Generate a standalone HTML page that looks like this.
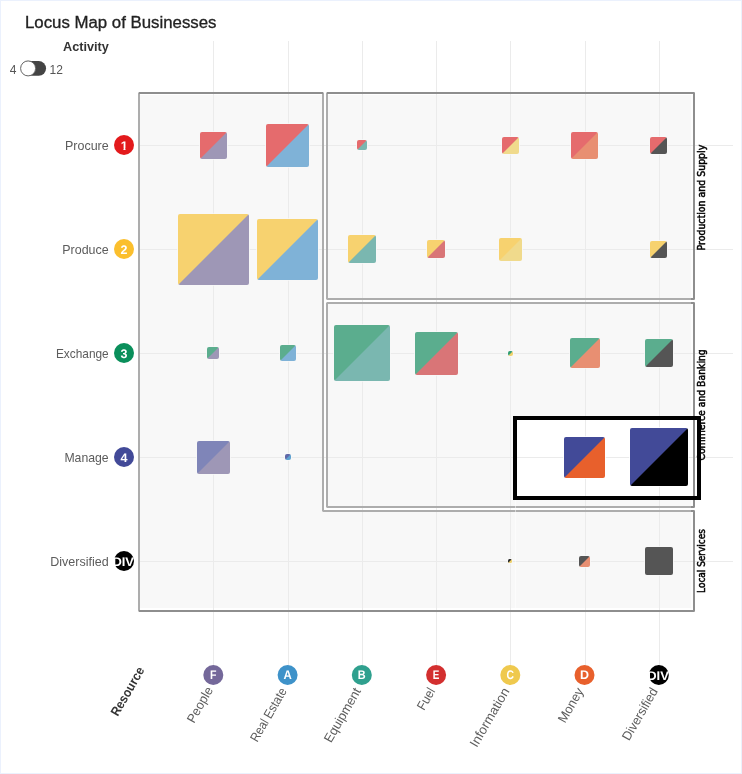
<!DOCTYPE html>
<html lang="en"><head><meta charset="utf-8"><title>Locus Map of Businesses</title>
<style>
html,body{margin:0;padding:0;background:#fff;}
body{width:742px;height:774px;overflow:hidden;position:relative;font-family:"Liberation Sans",sans-serif;}
svg{position:absolute;left:0;top:0;display:block;}
text{font-family:"Liberation Sans",sans-serif;}
.frame{position:absolute;left:0;top:0;width:740px;height:772px;border:1px solid #ebf1fd;}
.ax{font-size:13px;fill:#5c5c5c;}
.side{font-family:"DejaVu Sans Condensed","DejaVu Sans","Liberation Sans",sans-serif;font-size:11px;fill:#000;stroke:#000;stroke-width:0.5px;}
.badge{font-size:12.5px;font-weight:bold;fill:#fff;text-anchor:middle;text-rendering:geometricPrecision;}
</style></head><body>
<svg width="742" height="774" viewBox="0 0 742 774">
<defs>
<linearGradient id="g00" x1="0" y1="0" x2="1" y2="1"><stop offset="0.4869" stop-color="#e56b6d"/><stop offset="0.5131" stop-color="#9e97b6"/></linearGradient>
<linearGradient id="g01" x1="0" y1="0" x2="1" y2="1"><stop offset="0.4918" stop-color="#e56b6d"/><stop offset="0.5082" stop-color="#7fb2d7"/></linearGradient>
<linearGradient id="g02" x1="0" y1="0" x2="1" y2="1"><stop offset="0.4646" stop-color="#e56b6d"/><stop offset="0.5354" stop-color="#7ab7b0"/></linearGradient>
<linearGradient id="g04" x1="0" y1="0" x2="1" y2="1"><stop offset="0.4792" stop-color="#e56b6d"/><stop offset="0.5208" stop-color="#f0da8c"/></linearGradient>
<linearGradient id="g05" x1="0" y1="0" x2="1" y2="1"><stop offset="0.4869" stop-color="#e56b6d"/><stop offset="0.5131" stop-color="#e88f72"/></linearGradient>
<linearGradient id="g06" x1="0" y1="0" x2="1" y2="1"><stop offset="0.4792" stop-color="#e56b6d"/><stop offset="0.5208" stop-color="#555555"/></linearGradient>
<linearGradient id="g10" x1="0" y1="0" x2="1" y2="1"><stop offset="0.4950" stop-color="#f7d26f"/><stop offset="0.5050" stop-color="#9e97b6"/></linearGradient>
<linearGradient id="g11" x1="0" y1="0" x2="1" y2="1"><stop offset="0.4942" stop-color="#f7d26f"/><stop offset="0.5058" stop-color="#7fb2d7"/></linearGradient>
<linearGradient id="g12" x1="0" y1="0" x2="1" y2="1"><stop offset="0.4874" stop-color="#f7d26f"/><stop offset="0.5126" stop-color="#7ab7b0"/></linearGradient>
<linearGradient id="g13" x1="0" y1="0" x2="1" y2="1"><stop offset="0.4804" stop-color="#f7d26f"/><stop offset="0.5196" stop-color="#d97577"/></linearGradient>
<linearGradient id="g14" x1="0" y1="0" x2="1" y2="1"><stop offset="0.4846" stop-color="#f7d26f"/><stop offset="0.5154" stop-color="#f0da8c"/></linearGradient>
<linearGradient id="g16" x1="0" y1="0" x2="1" y2="1"><stop offset="0.4792" stop-color="#f7d26f"/><stop offset="0.5208" stop-color="#555555"/></linearGradient>
<linearGradient id="g20" x1="0" y1="0" x2="1" y2="1"><stop offset="0.4705" stop-color="#5bad8e"/><stop offset="0.5295" stop-color="#9e97b6"/></linearGradient>
<linearGradient id="g21" x1="0" y1="0" x2="1" y2="1"><stop offset="0.4779" stop-color="#5bad8e"/><stop offset="0.5221" stop-color="#7fb2d7"/></linearGradient>
<linearGradient id="g22" x1="0" y1="0" x2="1" y2="1"><stop offset="0.4937" stop-color="#5bad8e"/><stop offset="0.5063" stop-color="#7ab7b0"/></linearGradient>
<linearGradient id="g23" x1="0" y1="0" x2="1" y2="1"><stop offset="0.4918" stop-color="#5bad8e"/><stop offset="0.5082" stop-color="#d97577"/></linearGradient>
<linearGradient id="g24" x1="0" y1="0" x2="1" y2="1"><stop offset="0.4293" stop-color="#329e74"/><stop offset="0.5707" stop-color="#f0d26d"/></linearGradient>
<linearGradient id="g25" x1="0" y1="0" x2="1" y2="1"><stop offset="0.4882" stop-color="#5bad8e"/><stop offset="0.5118" stop-color="#e88f72"/></linearGradient>
<linearGradient id="g26" x1="0" y1="0" x2="1" y2="1"><stop offset="0.4874" stop-color="#5bad8e"/><stop offset="0.5126" stop-color="#555555"/></linearGradient>
<linearGradient id="g30" x1="0" y1="0" x2="1" y2="1"><stop offset="0.4893" stop-color="#7f85b8"/><stop offset="0.5107" stop-color="#9e97b6"/></linearGradient>
<linearGradient id="g31" x1="0" y1="0" x2="1" y2="1"><stop offset="0.4411" stop-color="#6068a8"/><stop offset="0.5589" stop-color="#5ea2d0"/></linearGradient>
<linearGradient id="g35" x1="0" y1="0" x2="1" y2="1"><stop offset="0.4914" stop-color="#424a98"/><stop offset="0.5086" stop-color="#e8602c"/></linearGradient>
<linearGradient id="g36" x1="0" y1="0" x2="1" y2="1"><stop offset="0.4939" stop-color="#424a98"/><stop offset="0.5061" stop-color="#000000"/></linearGradient>
<linearGradient id="g44" x1="0" y1="0" x2="1" y2="1"><stop offset="0.4116" stop-color="#2a2a2a"/><stop offset="0.5884" stop-color="#f0d26d"/></linearGradient>
<linearGradient id="g45" x1="0" y1="0" x2="1" y2="1"><stop offset="0.4679" stop-color="#555555"/><stop offset="0.5321" stop-color="#e88f72"/></linearGradient>
<linearGradient id="g46" x1="0" y1="0" x2="1" y2="1"><stop offset="0.4874" stop-color="#555555"/><stop offset="0.5126" stop-color="#555555"/></linearGradient>
<clipPath id="c1"><path d="M-5 -12H5V-1.7H1.3V0.6H-0.75V-1.7H-5Z"/></clipPath>
</defs>
<g fill="#f8f8f8" stroke="none">
<path d="M139 93H323V511H694V611H139Z"/>
<rect x="327" y="93" width="367" height="206"/>
<rect x="327" y="303" width="367" height="204"/>
</g>
<rect x="140" y="94" width="553" height="1" fill="#fff"/>
<rect x="140" y="608" width="553" height="2" fill="#fff"/>
<rect x="691" y="95" width="2" height="513" fill="#fff" opacity="0.7"/>
<rect x="515" y="418" width="184" height="80" fill="#fff"/>
<g fill="#ebebeb" stroke="none">
<rect x="213" y="41" width="1" height="626"/>
<rect x="288" y="41" width="1" height="626"/>
<rect x="362" y="41" width="1" height="626"/>
<rect x="436" y="41" width="1" height="626"/>
<rect x="510" y="41" width="1" height="626"/>
<rect x="585" y="41" width="1" height="626"/>
<rect x="659" y="41" width="1" height="626"/>
<rect x="139" y="145" width="594" height="1"/>
<rect x="139" y="249" width="594" height="1"/>
<rect x="139" y="353" width="594" height="1"/>
<rect x="139" y="457" width="594" height="1"/>
<rect x="139" y="561" width="594" height="1"/>
</g>
<g fill="none" stroke="#adadad" stroke-width="2" stroke-linejoin="bevel">
<path d="M139 93H323V511H694V611H139Z"/>
<rect x="327" y="93" width="367" height="206"/>
<rect x="327" y="303" width="367" height="204"/>
</g>
<g fill="none" stroke="#8e8e8e" stroke-width="2" stroke-linejoin="bevel">
<path d="M139 93H323"/>
<path d="M327 93H694V299H691"/>
<path d="M691 303H694V507H691"/>
<path d="M691 511H694V611H139"/>
</g>
<rect x="515" y="500" width="1" height="110" fill="#fff" opacity="0.5"/>
<text class="side" transform="translate(705.3,197.6) rotate(-90)" text-anchor="middle" textLength="105.7" lengthAdjust="spacingAndGlyphs">Production and Supply</text>
<text class="side" transform="translate(705.3,404.9) rotate(-90)" text-anchor="middle" textLength="111.3" lengthAdjust="spacingAndGlyphs">Commerce and Banking</text>
<text class="side" transform="translate(705.3,561) rotate(-90)" text-anchor="middle" textLength="63.8" lengthAdjust="spacingAndGlyphs">Local Services</text>
<rect x="515" y="418" width="184" height="80" fill="none" stroke="#000" stroke-width="4"/>
<rect x="200.00" y="132.00" width="27" height="27" rx="2.0" fill="url(#g00)" stroke="#f8f8f8" stroke-width="1.6" paint-order="stroke"/>
<rect x="266.00" y="124.00" width="43" height="43" rx="2.0" fill="url(#g01)" stroke="#f8f8f8" stroke-width="1.6" paint-order="stroke"/>
<rect x="357.00" y="140.00" width="10" height="10" rx="2.0" fill="url(#g02)" stroke="#f8f8f8" stroke-width="1.6" paint-order="stroke"/>
<rect x="502.00" y="137.00" width="17" height="17" rx="2.0" fill="url(#g04)" stroke="#f8f8f8" stroke-width="1.6" paint-order="stroke"/>
<rect x="571.00" y="132.00" width="27" height="27" rx="2.0" fill="url(#g05)" stroke="#f8f8f8" stroke-width="1.6" paint-order="stroke"/>
<rect x="650.00" y="137.00" width="17" height="17" rx="2.0" fill="url(#g06)" stroke="#f8f8f8" stroke-width="1.6" paint-order="stroke"/>
<rect x="178.00" y="214.00" width="71" height="71" rx="2.0" fill="url(#g10)" stroke="#f8f8f8" stroke-width="1.6" paint-order="stroke"/>
<rect x="257.00" y="219.00" width="61" height="61" rx="2.0" fill="url(#g11)" stroke="#f8f8f8" stroke-width="1.6" paint-order="stroke"/>
<rect x="348.00" y="235.00" width="28" height="28" rx="2.0" fill="url(#g12)" stroke="#f8f8f8" stroke-width="1.6" paint-order="stroke"/>
<rect x="427.00" y="240.00" width="18" height="18" rx="2.0" fill="url(#g13)" stroke="#f8f8f8" stroke-width="1.6" paint-order="stroke"/>
<rect x="499.00" y="238.00" width="23" height="23" rx="2.0" fill="url(#g14)" stroke="#f8f8f8" stroke-width="1.6" paint-order="stroke"/>
<rect x="650.00" y="241.00" width="17" height="17" rx="2.0" fill="url(#g16)" stroke="#f8f8f8" stroke-width="1.6" paint-order="stroke"/>
<rect x="207.00" y="347.00" width="12" height="12" rx="2.0" fill="url(#g20)" stroke="#f8f8f8" stroke-width="1.6" paint-order="stroke"/>
<rect x="280.00" y="345.00" width="16" height="16" rx="2.0" fill="url(#g21)" stroke="#f8f8f8" stroke-width="1.6" paint-order="stroke"/>
<rect x="334.00" y="325.00" width="56" height="56" rx="2.0" fill="url(#g22)" stroke="#f8f8f8" stroke-width="1.6" paint-order="stroke"/>
<rect x="415.00" y="332.00" width="43" height="43" rx="2.0" fill="url(#g23)" stroke="#f8f8f8" stroke-width="1.6" paint-order="stroke"/>
<rect x="508.00" y="351.00" width="5" height="5" rx="1.9" fill="url(#g24)" stroke="#f8f8f8" stroke-width="1.6" paint-order="stroke"/>
<rect x="570.00" y="338.00" width="30" height="30" rx="2.0" fill="url(#g25)" stroke="#f8f8f8" stroke-width="1.6" paint-order="stroke"/>
<rect x="645.00" y="339.00" width="28" height="28" rx="2.0" fill="url(#g26)" stroke="#f8f8f8" stroke-width="1.6" paint-order="stroke"/>
<rect x="197.00" y="441.00" width="33" height="33" rx="2.0" fill="url(#g30)" stroke="#f8f8f8" stroke-width="1.6" paint-order="stroke"/>
<rect x="285.00" y="454.00" width="6" height="6" rx="2.0" fill="url(#g31)" stroke="#f8f8f8" stroke-width="1.6" paint-order="stroke"/>
<rect x="564.00" y="437.00" width="41" height="41" rx="2.0" fill="url(#g35)" stroke="#fff" stroke-width="1.6" paint-order="stroke"/>
<rect x="630.00" y="428.00" width="58" height="58" rx="2.0" fill="url(#g36)" stroke="#fff" stroke-width="1.6" paint-order="stroke"/>
<rect x="508.00" y="559.00" width="4" height="4" rx="1.5" fill="url(#g44)" stroke="#f8f8f8" stroke-width="1.6" paint-order="stroke"/>
<rect x="579.00" y="556.00" width="11" height="11" rx="2.0" fill="url(#g45)" stroke="#f8f8f8" stroke-width="1.6" paint-order="stroke"/>
<rect x="645.00" y="547.00" width="28" height="28" rx="2.0" fill="url(#g46)" stroke="#f8f8f8" stroke-width="1.6" paint-order="stroke"/>
<text class="ax" x="108.7" y="149.6" text-anchor="end" textLength="43.7" lengthAdjust="spacingAndGlyphs">Procure</text>
<circle cx="124" cy="145" r="10" fill="#e31a1c"/>
<g transform="translate(124.2,149.6)"><text class="badge" x="0" y="0" clip-path="url(#c1)">1</text></g>
<text class="ax" x="108.7" y="253.6" text-anchor="end" textLength="46.4" lengthAdjust="spacingAndGlyphs">Produce</text>
<circle cx="124" cy="249" r="10" fill="#fbbf2d"/>
<text class="badge" x="124" y="253.6">2</text>
<text class="ax" x="108.7" y="357.6" text-anchor="end" textLength="52.8" lengthAdjust="spacingAndGlyphs">Exchange</text>
<circle cx="124" cy="353" r="10" fill="#0a8f5b"/>
<text class="badge" x="124" y="357.6">3</text>
<text class="ax" x="108.7" y="461.6" text-anchor="end" textLength="44.3" lengthAdjust="spacingAndGlyphs">Manage</text>
<circle cx="124" cy="457" r="10" fill="#424a98"/>
<text class="badge" x="124" y="461.6">4</text>
<text class="ax" x="108.7" y="565.6" text-anchor="end" textLength="58.4" lengthAdjust="spacingAndGlyphs">Diversified</text>
<circle cx="124" cy="561" r="10" fill="#000000"/>
<text class="badge" x="123.2" y="565.6" textLength="21.6" lengthAdjust="spacingAndGlyphs">DIV</text>
<circle cx="213.3" cy="675" r="10" fill="#74689a"/>
<text class="badge" x="213.3" y="679.4" textLength="6.5" lengthAdjust="spacingAndGlyphs">F</text>
<text class="ax" transform="translate(213.5,690.0) rotate(-60)" text-anchor="end" textLength="39.2" lengthAdjust="spacingAndGlyphs">People</text>
<circle cx="287.6" cy="675" r="10" fill="#3e92c9"/>
<text class="badge" x="287.6" y="679.4" textLength="8.3" lengthAdjust="spacingAndGlyphs">A</text>
<text class="ax" transform="translate(287.1,691) rotate(-60)" text-anchor="end" textLength="59.9" lengthAdjust="spacingAndGlyphs">Real Estate</text>
<circle cx="361.8" cy="675" r="10" fill="#2fa08e"/>
<text class="badge" x="361.8" y="679.4" textLength="7.9" lengthAdjust="spacingAndGlyphs">B</text>
<text class="ax" transform="translate(361.3,691) rotate(-60)" text-anchor="end" textLength="60.7" lengthAdjust="spacingAndGlyphs">Equipment</text>
<circle cx="436.1" cy="675" r="10" fill="#d32f2f"/>
<text class="badge" x="436.1" y="679.4" textLength="6.6" lengthAdjust="spacingAndGlyphs">E</text>
<text class="ax" transform="translate(435.6,691) rotate(-60)" text-anchor="end" textLength="23.1" lengthAdjust="spacingAndGlyphs">Fuel</text>
<circle cx="510.3" cy="675" r="10" fill="#efc94e"/>
<text class="badge" x="510.3" y="679.4" textLength="7.5" lengthAdjust="spacingAndGlyphs">C</text>
<text class="ax" transform="translate(509.8,691) rotate(-60)" text-anchor="end" textLength="65.9" lengthAdjust="spacingAndGlyphs">Information</text>
<circle cx="584.5" cy="675" r="10" fill="#e8602c"/>
<text class="badge" x="584.5" y="679.4" textLength="9.0" lengthAdjust="spacingAndGlyphs">D</text>
<text class="ax" transform="translate(584.0,691) rotate(-60)" text-anchor="end" textLength="37.9" lengthAdjust="spacingAndGlyphs">Money</text>
<circle cx="658.8" cy="675" r="10" fill="#000000"/>
<text class="badge" x="658.0" y="679.6" textLength="21.6" lengthAdjust="spacingAndGlyphs">DIV</text>
<text class="ax" transform="translate(658.3,691) rotate(-60)" text-anchor="end" textLength="58.4" lengthAdjust="spacingAndGlyphs">Diversified</text>
<text transform="translate(144.9,670.1) rotate(-60)" text-anchor="end" font-size="13" font-weight="bold" fill="#333" textLength="54.3" lengthAdjust="spacingAndGlyphs">Resource</text>
<text x="25" y="28" font-size="16" fill="#222" stroke="#222" stroke-width="0.3" textLength="191.5" lengthAdjust="spacingAndGlyphs">Locus Map of Businesses</text>
<text x="63" y="50.5" font-size="12" font-weight="bold" fill="#333" textLength="45.8" lengthAdjust="spacingAndGlyphs">Activity</text>
<text x="9.8" y="73.5" font-size="12" fill="#555">4</text>
<text x="49.5" y="73.5" font-size="12" fill="#555">12</text>
<rect x="21" y="61.1" width="25.05" height="14.7" rx="7.35" fill="#444"/>
<circle cx="28.1" cy="68.4" r="7.5" fill="#fff" stroke="#666" stroke-width="1"/>
</svg>
<div class="frame"></div>
</body></html>
